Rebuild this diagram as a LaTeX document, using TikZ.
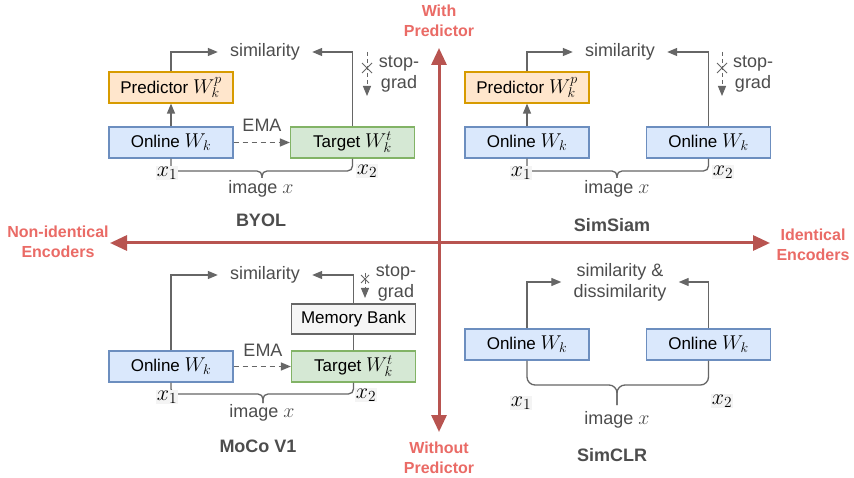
\RequirePackage{fix-cm}
\documentclass[tikz,border=0pt]{standalone}
\usepackage{fontspec}
\setmainfont{Liberation Sans}
\usetikzlibrary{arrows.meta}

\definecolor{axisred}{HTML}{B85450}
\definecolor{labelred}{HTML}{EA6B66}
\definecolor{linegrey}{HTML}{666666}
\definecolor{textgrey}{HTML}{4D4D4D}
\definecolor{blueF}{HTML}{DAE8FC}
\definecolor{blueD}{HTML}{6C8EBF}
\definecolor{orangeF}{HTML}{FFE6CC}
\definecolor{orangeD}{HTML}{D79B00}
\definecolor{greenF}{HTML}{D5E8D4}
\definecolor{greenD}{HTML}{82B366}
\definecolor{greyF}{HTML}{F5F5F5}
\definecolor{labelbg}{HTML}{F4F4F4}

% math set a little larger than the surrounding text
\newcommand\mth[1]{{\fontsize{20}{21}\selectfont$#1$}}
\newcommand\mxl[1]{{\fontsize{22}{22}\selectfont$#1$}}

\begin{document}
\begin{tikzpicture}[x=1pt,y=-1pt,
  box/.style={draw, line width=1.2pt, minimum width=124pt, minimum height=31pt,
    inner sep=0pt, font=\fontsize{17}{19}\selectfont, text=black},
  onlinebox/.style={box, fill=blueF, draw=blueD},
  predbox/.style={box, fill=orangeF, draw=orangeD},
  targetbox/.style={box, fill=greenF, draw=greenD},
  memorybox/.style={box, fill=greyF, draw=linegrey, minimum height=30pt},
  lbl/.style={text=textgrey, font=\fontsize{18}{21}\selectfont, align=center, inner sep=0pt},
  simlbl/.style={lbl, inner xsep=12pt},
  title/.style={text=textgrey, font=\bfseries\fontsize{18}{20}\selectfont, inner sep=0pt},
  xlbl/.style={fill=labelbg, inner sep=1pt},
  axislbl/.style={text=labelred, font=\bfseries\fontsize{16}{20}\selectfont, align=center, inner sep=0pt},
  conn/.style={draw=linegrey, line width=1.3pt, -{Triangle[length=10pt,width=8pt]}},
  plain/.style={draw=linegrey, line width=1.3pt},
  emaline/.style={conn, dash pattern=on 5pt off 4pt},
  stopline/.style={conn, dash pattern=on 4pt off 3pt, line width=1pt},
  brace/.style={draw=linegrey, line width=1.3pt, rounded corners=5pt},
  axis/.style={draw=axisred, line width=3pt,
    {Triangle[length=17pt,width=15pt]}-{Triangle[length=17pt,width=15pt]}},
]
\useasboundingbox (0,0) rectangle (854,478);
\fill[white] (0,0) rectangle (854,478);

% ---------- axes ----------
\coordinate (axL) at (110,243);
\coordinate (axR) at (770,243);
\coordinate (axT) at (439,48);
\coordinate (axB) at (439,432);
\draw[axis] (axL) -- (axR);
\draw[axis] (axT) -- (axB);
\node[axislbl] (withp) at (439,21) {With\\Predictor};
\node[axislbl] (withoutp) at (439,458) {Without\\Predictor};
\node[axislbl] (nonid) at (58,242) {Non-identical\\Encoders};
\node[axislbl] (ident) at (813,245) {Identical\\Encoders};

% ---------- BYOL ----------
\node[predbox] (p1) at (171,87.5) {Predictor \mth{W_k^p}};
\node[onlinebox] (o1) at (171,142.5) {Online \mth{W_k}};
\node[targetbox] (t1) at (352.5,142.5) {Target \mth{W_k^t}};
\node[simlbl] (s1) at (265,52) {similarity};
\node[lbl] (ema1) at (262,125) {EMA};
\draw[conn] (o1) -- (p1);
\draw[conn] (p1.north) |- (s1.west);
\draw[conn] (t1.north) |- (s1.east);
\draw[emaline] (o1.east) -- (t1.west);
\coordinate (sg1a) at (367,52);
\coordinate (sg1b) at (367,96);
\draw[stopline] (sg1a) -- (sg1b);
\draw[plain, line width=1pt] (362,63) -- (372,73) (362,73) -- (372,63);
\node[lbl] (sgt1) at (399,74) {stop-\\grad};
\coordinate (b1m) at (262,171);
\draw[brace] (o1.south) |- (b1m) -- (262,178);
\draw[brace] (t1.south) |- (b1m) -- (262,178);
\node[xlbl] (x11) at (167,173) {\mxl{x_1}};
\node[xlbl] (x21) at (367,171) {\mxl{x_2}};
\node[lbl] (img1) at (261,189) {image \mth{x}};
\node[title] (byol) at (261,220) {BYOL};

% ---------- SimSiam ----------
\node[predbox] (p2) at (527,87.5) {Predictor \mth{W_k^p}};
\node[onlinebox] (o2) at (527,142.5) {Online \mth{W_k}};
\node[onlinebox] (q2) at (708.5,142.5) {Online \mth{W_k}};
\node[simlbl] (s2) at (620,52) {similarity};
\draw[conn] (o2) -- (p2);
\draw[conn] (p2.north) |- (s2.west);
\draw[conn] (q2.north) |- (s2.east);
\coordinate (sg2a) at (722,52);
\coordinate (sg2b) at (722,96);
\draw[stopline] (sg2a) -- (sg2b);
\draw[plain, line width=1pt] (717,63) -- (727,73) (717,73) -- (727,63);
\node[lbl] (sgt2) at (753,74) {stop-\\grad};
\coordinate (b2m) at (617,171);
\draw[brace] (o2.south) |- (b2m) -- (617,178);
\draw[brace] (q2.south) |- (b2m) -- (617,178);
\node[xlbl] (x12) at (521,173) {\mxl{x_1}};
\node[xlbl] (x22) at (723,172) {\mxl{x_2}};
\node[lbl] (img2) at (617,189) {image \mth{x}};
\node[title] (simsiam) at (612,225) {SimSiam};

% ---------- MoCo V1 ----------
\node[onlinebox] (o3) at (171,366.5) {Online \mth{W_k}};
\node[targetbox] (t3) at (353.5,366.5) {Target \mth{W_k^t}};
\node[memorybox] (m3) at (353.5,319) {Memory Bank};
\node[simlbl] (s3) at (265,275) {similarity};
\node[lbl] (ema3) at (263,350) {EMA};
\draw[conn] (o3.north) |- (s3.west);
\draw[plain] (t3.north) -- (m3.south);
\draw[conn] (m3.north) |- (s3.east);
\draw[emaline] (o3.east) -- (t3.west);
\coordinate (sg3a) at (365,273);
\coordinate (sg3b) at (365,298);
\draw[stopline] (sg3a) -- (sg3b);
\draw[plain, line width=1pt] (361,275) -- (369,283) (361,283) -- (369,275);
\node[lbl] (sgt3) at (396,283) {stop-\\grad};
\coordinate (b3m) at (263,394);
\draw[brace] (o3.south) |- (b3m) -- (263,403);
\draw[brace] (t3.south) |- (b3m) -- (263,403);
\node[xlbl] (x13) at (167,397) {\mxl{x_1}};
\node[xlbl] (x23) at (366,395) {\mxl{x_2}};
\node[lbl] (img3) at (262,413) {image \mth{x}};
\node[title] (moco) at (258,446) {MoCo V1};

% ---------- SimCLR ----------
\node[onlinebox] (o4) at (527,344.5) {Online \mth{W_k}};
\node[onlinebox] (q4) at (708.5,344.5) {Online \mth{W_k}};
\node[simlbl] (s4) at (620,282) {similarity \&\\dissimilarity};
\draw[conn] (o4.north) |- (s4.west);
\draw[conn] (q4.north) |- (s4.east);
\coordinate (b4m) at (617,385);
\draw[brace, rounded corners=8pt] (o4.south) |- (b4m) -- (617,405);
\draw[brace, rounded corners=8pt] (q4.south) |- (b4m) -- (617,405);
\node[xlbl] (x14) at (521,403) {\mxl{x_1}};
\node[xlbl] (x24) at (722,401) {\mxl{x_2}};
\node[lbl] (img4) at (617,420) {image \mth{x}};
\node[title] (simclr) at (612,455) {SimCLR};
\end{tikzpicture}
\end{document}
